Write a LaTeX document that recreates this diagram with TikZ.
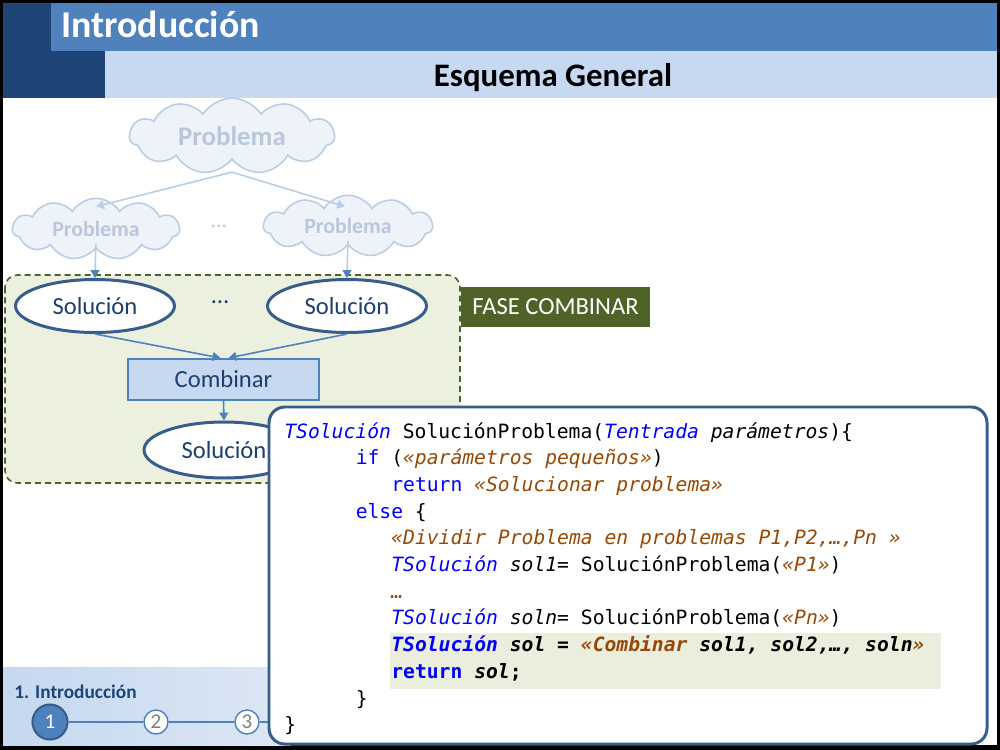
\documentclass[tikz,border=0pt]{standalone}
\usepackage{fontspec}
\setmainfont{Carlito}
\setmonofont{DejaVu Sans Mono}
\usetikzlibrary{shapes.geometric,shapes.symbols,arrows.meta}
\definecolor{hdrdark}{HTML}{1F4478}
\definecolor{midblue}{HTML}{4F81BD}
\definecolor{lightblue}{HTML}{C6D9F1}
\definecolor{borderblue}{HTML}{385D8A}
\definecolor{cloudfill}{HTML}{EEF3FA}
\definecolor{cloudline}{HTML}{B9CDE5}
\definecolor{cloudtext}{HTML}{B8C7DB}
\definecolor{olive}{HTML}{4F6228}
\definecolor{palegreen}{HTML}{EBF1DE}
\definecolor{kwblue}{HTML}{0000FF}
\definecolor{strbrown}{HTML}{984806}
\definecolor{hlgreen}{HTML}{EBEEDD}
\definecolor{navytext}{HTML}{1F3F6E}
\definecolor{footA}{HTML}{C4D8F0}
\definecolor{footB}{HTML}{DDE7F4}
\definecolor{graytext}{HTML}{7F7F7F}
\newcommand{\ckw}[1]{\textcolor{kwblue}{#1}}
\newcommand{\ctype}[1]{\textcolor{kwblue}{\itshape #1}}
\newcommand{\cstr}[1]{\textcolor{strbrown}{\itshape #1}}
\newcommand{\cvar}[1]{{\itshape #1}}
\begin{document}
\begin{tikzpicture}[x=0.02cm,y=-0.02cm,
  cloudst/.style={cloud, cloud puffs=11, cloud puff arc=115, aspect=2.8, draw=cloudline, fill=cloudfill, line width=0.9pt, text=cloudtext, inner sep=0pt},
  solst/.style={ellipse, draw=borderblue, line width=1.7pt, fill=white, text=navytext, inner sep=0pt, font=\fontsize{14}{16}\selectfont},
  lightarrow/.style={draw=cloudline, line width=0.9pt, -{Triangle[length=4.5pt,width=5pt]}},
  bluearrow/.style={draw=midblue, line width=0.9pt, -{Triangle[length=4.5pt,width=5pt]}},
  codeline/.style={anchor=base west, inner sep=0pt, font=\fontsize{11.2}{13}\selectfont\ttfamily\frenchspacing},
  stepcircle/.style={circle, inner sep=0pt, font=\fontsize{12}{14}\selectfont}
]
\useasboundingbox (0,0) rectangle (1000,750);
\fill[black] (0,0) rectangle (1000,750);
\fill[white] (3,3) rectangle (997,745);
% header
\fill[hdrdark] (3,3) rectangle (105,98);
\fill[midblue] (51,3) rectangle (997,51);
\fill[lightblue] (105,51) rectangle (997,98);
\node[anchor=base west, text=white, font=\fontsize{21.5}{24}\selectfont\bfseries, inner sep=0pt] (title) at (61,38) {Introducción};
\node[anchor=base, font=\fontsize{18.7}{22}\selectfont\bfseries, inner sep=0pt] (sub) at (553,87) {Esquema General};
% footer band
\shade[left color=footA, right color=footB] (3,667) rectangle (290,745);
\node[anchor=base west, inner sep=0pt, text=hdrdark, font=\fontsize{11}{13}\selectfont\bfseries] (foot) at (14,698) {1. Introducción};
\node[stepcircle, fill=midblue, draw=borderblue, line width=1.2pt, minimum size=0.7cm, text=white] (c1) at (50,722) {1};
\node[stepcircle, fill=white, draw=midblue, line width=0.8pt, minimum size=0.48cm, text=graytext] (c2) at (156,722) {2};
\node[stepcircle, fill=white, draw=midblue, line width=0.8pt, minimum size=0.48cm, text=graytext] (c3) at (247,722) {3};
\coordinate (fe) at (280,722);
\draw[midblue, line width=0.9pt] (c1) -- (c2) (c2) -- (c3) (c3) -- (fe);
% green dashed box
\draw[olive, dash pattern=on 3.4pt off 2.3pt, fill=palegreen, line width=0.9pt, rounded corners=7pt] (5,275) rectangle (460,483);
% clouds
\node[cloudst, minimum width=4.1cm, minimum height=1.44cm, font=\fontsize{15.3}{17}\selectfont\bfseries] (P0) at (232,136) {Problema};
\node[cloudst, minimum width=3.34cm, minimum height=1.04cm, font=\fontsize{12.4}{14}\selectfont\bfseries] (P1) at (96,229) {Problema};
\node[cloudst, minimum width=3.38cm, minimum height=1.04cm, font=\fontsize{12.4}{14}\selectfont\bfseries] (P2) at (348,226) {Problema};
\node[text=cloudtext, font=\fontsize{12.4}{14}\selectfont] (d1) at (219,226) {…};
\draw[lightarrow] ([yshift=-0.24cm]P0.south) -- ([yshift=-0.18cm]P1.north);
\draw[lightarrow] ([yshift=-0.24cm]P0.south) -- ([xshift=-0.06cm,yshift=-0.24cm]P2.north);
% solution ellipses
\node[solst, minimum width=3.18cm, minimum height=1.06cm] (S1) at (95,306) {Solución};
\node[solst, minimum width=3.18cm, minimum height=1.06cm] (S2) at (347,306) {Solución};
\node[solst, minimum width=3.2cm, minimum height=1.12cm] (S3) at (224,450) {Solución};
\node[text=navytext, font=\fontsize{14}{16}\selectfont] (d2) at (220,302) {…};
\draw[draw=cloudline, line width=0.9pt] ([yshift=0.1cm]P1.south) -- ([yshift=0.12cm]S1.north);
\draw[bluearrow] ([yshift=0.14cm]S1.north) -- (S1.north);
\draw[draw=cloudline, line width=0.9pt] ([yshift=0.1cm]P2.south) -- ([yshift=0.12cm]S2.north);
\draw[bluearrow] ([yshift=0.14cm]S2.north) -- (S2.north);
% combinar
\node[draw=midblue, line width=1.2pt, fill=lightblue, text=navytext, minimum width=3.82cm, minimum height=0.82cm, inner sep=0pt, font=\fontsize{14}{16}\selectfont] (C) at (223.5,379.5) {Combinar};
\draw[bluearrow] (S1.south) -- ([xshift=-0.06cm]C.north);
\draw[bluearrow] (S2.south) -- ([xshift=0.1cm]C.north);
\draw[bluearrow] (C.south) -- (S3.north);
% fase combinar
\node[fill=olive, text=white, minimum width=3.8cm, minimum height=0.8cm, inner sep=0pt, font=\fontsize{14}{16}\selectfont] (F) at (555.5,307) {FASE COMBINAR};
% code box
\draw[borderblue, line width=1.7pt, fill=white, rounded corners=9pt] (269,407) rectangle (987,744);
\fill[hlgreen] (390,633) rectangle (941,689);
\node[codeline] (L1) at (284,438) {\ctype{TSolución} SoluciónProblema(\ctype{Tentrada} \cvar{parámetros})\{};
\node[codeline] (L2) at (355.4,464.7) {\ckw{if} (\cstr{«parámetros pequeños»})};
\node[codeline] (L3) at (391,491.4) {\ckw{return} \cstr{«Solucionar problema»}};
\node[codeline] (L4) at (355.4,518.1) {\ckw{else} \{};
\node[codeline] (L5) at (391,544.8) {\cstr{«Dividir Problema en problemas P1,P2,…,Pn »}};
\node[codeline] (L6) at (391,571.5) {\ctype{TSolución} \cvar{sol1}= SoluciónProblema(\cstr{«P1»})};
\node[codeline] (L7) at (391,598.2) {\cstr{…}};
\node[codeline] (L8) at (391,624.9) {\ctype{TSolución} \cvar{soln}= SoluciónProblema(\cstr{«Pn»})};
\node[codeline, font=\fontsize{11.2}{13}\selectfont\ttfamily\frenchspacing\bfseries] (L9) at (391,651.6) {\ctype{TSolución} \cvar{sol = }\cstr{«Combinar}\cvar{ sol1, sol2,…, soln}\cstr{»}};
\node[codeline, font=\fontsize{11.2}{13}\selectfont\ttfamily\frenchspacing\bfseries] (L10) at (391,678.3) {\ckw{return} \cvar{sol};};
\node[codeline] (L11) at (355.4,705) {\}};
\node[codeline] (L12) at (284,731.7) {\}};
\end{tikzpicture}
\end{document}
